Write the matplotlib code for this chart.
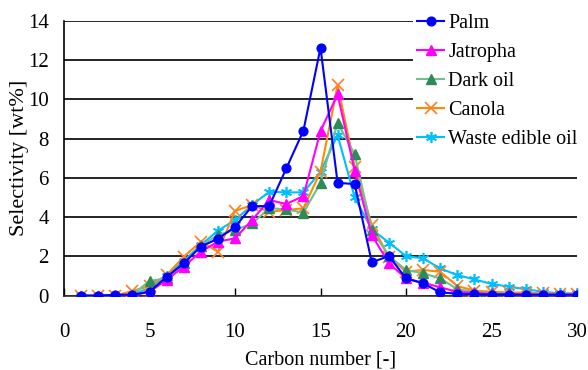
import matplotlib
matplotlib.use("Agg")
import matplotlib.pyplot as plt

carbon = list(range(1, 31))
palm = [0, 0, 0.05, 0.05, 0.2, 0.95, 1.65, 2.5, 2.9, 3.5, 4.56, 4.56, 6.48, 8.4, 12.62,
        5.75, 5.68, 1.7, 2.02, 0.88, 0.63, 0.17, 0.1, 0.08, 0.06, 0.06, 0.05, 0.05, 0.05, 0.05]
jatropha = [0, 0, 0, 0, 0.2, 0.8, 1.48, 2.24, 2.75, 2.92, 3.85, 4.87, 4.67, 5.07, 8.38,
            10.25, 6.35, 3.09, 1.65, 0.88, 0.66, 0.43, 0.19, 0.15, 0.08, 0.08, 0.06, 0.05, 0.05, 0.05]
dark_oil = [0, 0, 0, 0.05, 0.75, 0.88, 1.65, 2.53, 3.09, 3.34, 3.68, 4.45, 4.4, 4.22, 5.75,
            8.8, 7.2, 3.34, 2.02, 1.31, 1.14, 0.88, 0.33, 0.19, 0.12, 0.12, 0.05, 0.05, 0.05, 0.05]
canola = [0, 0, 0, 0.24, 0.49, 1.05, 1.98, 2.75, 2.24, 4.31, 4.62, 4.27, 4.36, 4.45, 6.31,
          10.72, 6.57, 3.6, 1.98, 1.22, 1.31, 1.22, 0.49, 0.26, 0.2, 0.17, 0.15, 0.12, 0.1, 0.1]
waste = [0, 0, 0, 0.05, 0.4, 1.0, 1.78, 2.58, 3.31, 3.85, 4.62, 5.29, 5.26, 5.26, 6.31,
         8.18, 5.0, 3.38, 2.7, 2.02, 1.9, 1.39, 1.05, 0.83, 0.6, 0.46, 0.33, 0.2, 0.12, 0.12]

xticks = [0, 5, 10, 15, 20, 25, 30]
yticks = [0, 2, 4, 6, 8, 10, 12, 14]

plt.rcParams['font.family'] = ['Liberation Serif', 'DejaVu Serif']

fig = plt.figure(figsize=(5.88, 3.70), dpi=100)
ax = fig.add_axes([64/588, 1-295.7/370, (577-64)/588, (295.7-20.7)/370])

ax.plot(carbon, palm, color='#0000FF', marker='o', ms=6.3, lw=1.5, label='Palm', zorder=6)
ax.plot(carbon, jatropha, color='#FF00FF', marker='^', ms=7, lw=1.5, label='Jatropha', zorder=5)
ax.plot(carbon, dark_oil, color='#6FBF8F', marker='^', ms=7, lw=1.5, mfc='#2E8B57', mec='#2E8B57',
        label='Dark oil', zorder=4)
ax.plot(carbon, canola, color='#FF8C00', marker='x', ms=9, mew=1.2, mec='#FF7F27', lw=1.5,
        label='Canola', zorder=3)
ax.plot(carbon, waste, color='#00BFFF', marker=(6, 2, 0), ms=8, mew=1.2, lw=1.5,
        label='Waste edible oil', zorder=2)

ax.set_xlim(0, 30)
ax.set_ylim(0, 14)
ax.set_xticks(xticks)
ax.set_yticks(yticks)
ax.yaxis.grid(True, color='black', lw=1.2)
ax.set_axisbelow(True)
for s in ['top', 'right']:
    ax.spines[s].set_visible(False)
ax.spines['left'].set_linewidth(1.2)
ax.spines['bottom'].set_linewidth(1.2)
ax.spines['bottom'].set_color('#333333')
ax.tick_params(axis='x', direction='in', length=6, labelsize=15, pad=20, width=1)
ax.tick_params(axis='y', length=0, labelsize=15, pad=11)
ax.set_xlabel('Carbon number [-]', fontsize=14.5, labelpad=6)
ax.set_ylabel('Selectivity [wt%]', fontsize=16)
ax.yaxis.set_label_coords((20 - 64) / 513, 0.5)
ax.yaxis.label.set_va('center')

leg = ax.legend(loc='upper left', bbox_to_anchor=(413/588, 1-10/370), bbox_transform=fig.transFigure,
                frameon=True, fontsize=14.5, handlelength=1.35, handletextpad=0.2,
                labelspacing=0.49, borderpad=0.2, borderaxespad=0)
leg.get_frame().set_facecolor('white')
leg.get_frame().set_edgecolor('none')
leg.get_frame().set_alpha(1)
leg.set_zorder(10)

fig.savefig('out.png', dpi=100)
